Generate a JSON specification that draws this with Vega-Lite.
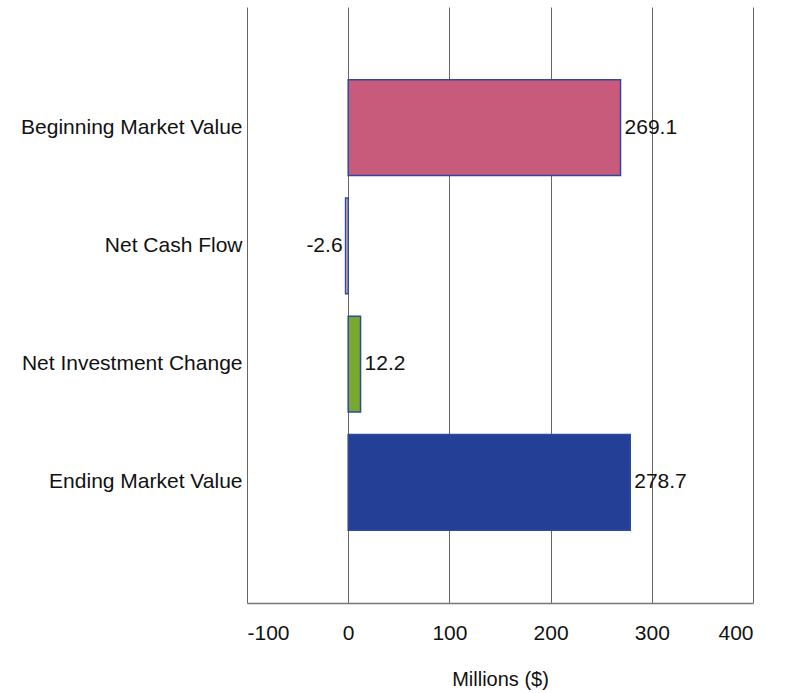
{
  "$schema": "https://vega.github.io/schema/vega-lite/v6.json",
  "width": 506,
  "height": 596,
  "autosize": {"type": "none"},
  "padding": {"left": 247, "top": 7, "right": 35, "bottom": 90},
  "background": "white",
  "config": {
    "view": {"stroke": null},
    "font": "Liberation Sans"
  },
  "data": {
    "values": [
      {"category": "Beginning Market Value", "value": 269.1, "label": "269.1", "color": "#c85a7c"},
      {"category": "Net Cash Flow", "value": -2.6, "label": "-2.6", "color": "#e9c9a0"},
      {"category": "Net Investment Change", "value": 12.2, "label": "12.2", "color": "#78a82e"},
      {"category": "Ending Market Value", "value": 278.7, "label": "278.7", "color": "#243f96"}
    ]
  },
  "encoding": {
    "y": {
      "field": "category",
      "type": "nominal",
      "sort": null,
      "scale": {"paddingInner": 0.19, "paddingOuter": 0.615},
      "axis": {
        "title": null,
        "domain": false,
        "ticks": false,
        "labelPadding": 5,
        "labelFontSize": 21,
        "labelColor": "#111",
        "labelFont": "Liberation Sans",
        "labelLimit": 300
      }
    },
    "x": {
      "field": "value",
      "type": "quantitative",
      "scale": {"domain": [-100, 400], "nice": false, "zero": false},
      "axis": {
        "title": "Millions ($)",
        "values": [-100, 0, 100, 200, 300, 400],
        "labelExpr": "'' + datum.value",
        "grid": true,
        "gridColor": "#666",
        "gridWidth": 1,
        "domain": true,
        "domainColor": "#777",
        "domainWidth": 1.5,
        "ticks": false,
        "labelPadding": 19,
        "labelFontSize": 21,
        "labelColor": "#111",
        "labelFont": "Liberation Sans",
        "titleFontSize": 20,
        "titleFontWeight": "normal",
        "titleColor": "#111",
        "titleFont": "Liberation Sans",
        "titlePadding": 26
      }
    }
  },
  "layer": [
    {
      "mark": {"type": "bar", "stroke": "#2f48a0", "strokeWidth": 1.5},
      "encoding": {
        "color": {"field": "color", "type": "nominal", "scale": null, "legend": null}
      }
    },
    {
      "transform": [{"filter": "datum.value >= 0"}],
      "mark": {"type": "text", "align": "left", "dx": 4, "fontSize": 21, "color": "#111", "font": "Liberation Sans"},
      "encoding": {"text": {"field": "label", "type": "nominal"}}
    },
    {
      "transform": [{"filter": "datum.value < 0"}],
      "mark": {"type": "text", "align": "right", "dx": -3, "fontSize": 21, "color": "#111", "font": "Liberation Sans"},
      "encoding": {"text": {"field": "label", "type": "nominal"}}
    }
  ]
}
